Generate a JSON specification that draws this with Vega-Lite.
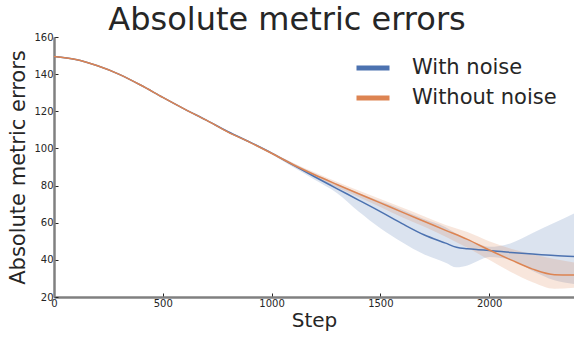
{
  "$schema": "https://vega.github.io/schema/vega-lite/v6.json",
  "autosize": "none",
  "width": 520,
  "height": 260,
  "padding": {"left": 54, "top": 37, "right": 0, "bottom": 40},
  "background": "white",
  "title": {"text": "Absolute metric errors", "fontSize": 32, "font": "DejaVu Sans", "fontWeight": "normal", "color": "#262626", "anchor": "middle", "dx": -27, "offset": -5},
  "config": {
    "view": {"stroke": null},
    "font": "DejaVu Sans",
    "axisY": {"title": "Absolute metric errors", "titleFontSize": 21, "titleFontWeight": "normal", "titleColor": "#262626", "titlePadding": 5,
      "values": [20, 40, 60, 80, 100, 120, 140, 160], "labelFontSize": 10, "labelColor": "#262626", "labelPadding": 5, "labelOverlap": false,
      "tickSize": -4, "tickColor": "#262626", "domainColor": "#808080", "domainWidth": 2.5, "grid": false}
  },
  "data": {"values": [
    {"step": 0, "series": "With noise", "mean": 149.5, "lo": 149.2, "hi": 149.8},
    {"step": 100, "series": "With noise", "mean": 147.9, "lo": 147.6, "hi": 148.2},
    {"step": 200, "series": "With noise", "mean": 144.5, "lo": 144.2, "hi": 144.8},
    {"step": 300, "series": "With noise", "mean": 139.9, "lo": 139.6, "hi": 140.2},
    {"step": 400, "series": "With noise", "mean": 134, "lo": 133.7, "hi": 134.3},
    {"step": 500, "series": "With noise", "mean": 127.5, "lo": 127.2, "hi": 127.8},
    {"step": 600, "series": "With noise", "mean": 121.2, "lo": 120.9, "hi": 121.5},
    {"step": 700, "series": "With noise", "mean": 115.2, "lo": 114.9, "hi": 115.5},
    {"step": 800, "series": "With noise", "mean": 109, "lo": 108.6, "hi": 109.4},
    {"step": 900, "series": "With noise", "mean": 103.4, "lo": 102.9, "hi": 103.9},
    {"step": 1000, "series": "With noise", "mean": 97.5, "lo": 96.8, "hi": 98.1},
    {"step": 1100, "series": "With noise", "mean": 91, "lo": 89.8, "hi": 92},
    {"step": 1200, "series": "With noise", "mean": 84.6, "lo": 83, "hi": 86.3},
    {"step": 1300, "series": "With noise", "mean": 78.4, "lo": 76, "hi": 81},
    {"step": 1400, "series": "With noise", "mean": 72.2, "lo": 66, "hi": 76},
    {"step": 1500, "series": "With noise", "mean": 66, "lo": 57, "hi": 71.5},
    {"step": 1600, "series": "With noise", "mean": 59.5, "lo": 49.5, "hi": 67},
    {"step": 1700, "series": "With noise", "mean": 53.5, "lo": 43, "hi": 62},
    {"step": 1800, "series": "With noise", "mean": 49, "lo": 38.5, "hi": 57.5},
    {"step": 1850, "series": "With noise", "mean": 46.8, "lo": 36, "hi": 54},
    {"step": 1900, "series": "With noise", "mean": 46, "lo": 37, "hi": 51},
    {"step": 1950, "series": "With noise", "mean": 45.5, "lo": 39.5, "hi": 48.5},
    {"step": 2000, "series": "With noise", "mean": 45.1, "lo": 41.5, "hi": 47},
    {"step": 2100, "series": "With noise", "mean": 44, "lo": 40, "hi": 49},
    {"step": 2200, "series": "With noise", "mean": 43.1, "lo": 34, "hi": 54.5},
    {"step": 2300, "series": "With noise", "mean": 42.3, "lo": 29, "hi": 60},
    {"step": 2390, "series": "With noise", "mean": 41.8, "lo": 27, "hi": 65},
    {"step": 0, "series": "Without noise", "mean": 149.5, "lo": 149.2, "hi": 149.8},
    {"step": 100, "series": "Without noise", "mean": 147.9, "lo": 147.6, "hi": 148.2},
    {"step": 200, "series": "Without noise", "mean": 144.5, "lo": 144.2, "hi": 144.8},
    {"step": 300, "series": "Without noise", "mean": 139.9, "lo": 139.6, "hi": 140.2},
    {"step": 400, "series": "Without noise", "mean": 134, "lo": 133.7, "hi": 134.3},
    {"step": 500, "series": "Without noise", "mean": 127.5, "lo": 127.2, "hi": 127.8},
    {"step": 600, "series": "Without noise", "mean": 121.2, "lo": 120.9, "hi": 121.5},
    {"step": 700, "series": "Without noise", "mean": 115.2, "lo": 114.9, "hi": 115.5},
    {"step": 800, "series": "Without noise", "mean": 108.8, "lo": 108.4, "hi": 109.2},
    {"step": 900, "series": "Without noise", "mean": 103.3, "lo": 102.8, "hi": 103.8},
    {"step": 1000, "series": "Without noise", "mean": 97.4, "lo": 96.8, "hi": 98},
    {"step": 1100, "series": "Without noise", "mean": 91.2, "lo": 90.4, "hi": 92.2},
    {"step": 1200, "series": "Without noise", "mean": 85.7, "lo": 84.5, "hi": 87},
    {"step": 1300, "series": "Without noise", "mean": 80.6, "lo": 79, "hi": 82},
    {"step": 1400, "series": "Without noise", "mean": 75.6, "lo": 73.8, "hi": 77.3},
    {"step": 1500, "series": "Without noise", "mean": 70.7, "lo": 68.5, "hi": 72.8},
    {"step": 1600, "series": "Without noise", "mean": 65.7, "lo": 63, "hi": 68.2},
    {"step": 1700, "series": "Without noise", "mean": 60.8, "lo": 58, "hi": 63.5},
    {"step": 1800, "series": "Without noise", "mean": 55.9, "lo": 52.5, "hi": 58.8},
    {"step": 1900, "series": "Without noise", "mean": 51, "lo": 46.5, "hi": 55},
    {"step": 2000, "series": "Without noise", "mean": 45.3, "lo": 40, "hi": 50},
    {"step": 2100, "series": "Without noise", "mean": 40, "lo": 33.5, "hi": 46},
    {"step": 2200, "series": "Without noise", "mean": 35, "lo": 28, "hi": 43},
    {"step": 2300, "series": "Without noise", "mean": 32, "lo": 24.5, "hi": 40.5},
    {"step": 2390, "series": "Without noise", "mean": 31.8, "lo": 25, "hi": 38.6}
  ]},
  "encoding": {
    "x": {"field": "step", "type": "quantitative",
      "scale": {"domain": [0, 2390], "nice": false, "zero": false},
      "axis": {"title": "Step", "titleFontSize": 20, "titleFontWeight": "normal", "titleColor": "#262626", "titlePadding": 2,
        "values": [0, 500, 1000, 1500, 2000], "format": "d", "labelFontSize": 10, "labelColor": "#262626", "labelPadding": 5,
        "tickSize": -4, "tickColor": "#262626", "domainColor": "#808080", "domainWidth": 2.5, "grid": false, "labelFlush": false, "labelOverlap": false}
    },
    "color": {"field": "series", "type": "nominal",
      "scale": {"domain": ["With noise", "Without noise"], "range": ["#4c72b0", "#dd8452"]},
      "legend": {"title": null, "orient": "none", "legendX": 300, "legendY": 12, "padding": 0,
        "symbolType": "stroke", "symbolSize": 1089, "symbolStrokeWidth": 5, "symbolOpacity": 1, "labelFontSize": 21, "labelColor": "#262626",
        "labelOffset": 20, "rowPadding": 1, "labelLimit": 300}
    }
  },
  "layer": [
    {
      "mark": {"type": "area", "opacity": 0.2, "interpolate": "monotone"},
      "encoding": {
        "y": {"field": "lo", "type": "quantitative", "scale": {"domain": [20, 160], "nice": false, "zero": false}, "title": "Absolute metric errors"},
        "y2": {"field": "hi"}
      }
    },
    {
      "mark": {"type": "line", "strokeWidth": 1.5, "interpolate": "monotone"},
      "encoding": {
        "y": {"field": "mean", "type": "quantitative", "scale": {"domain": [20, 160], "nice": false, "zero": false}, "title": "Absolute metric errors"}
      }
    }
  ]
}
